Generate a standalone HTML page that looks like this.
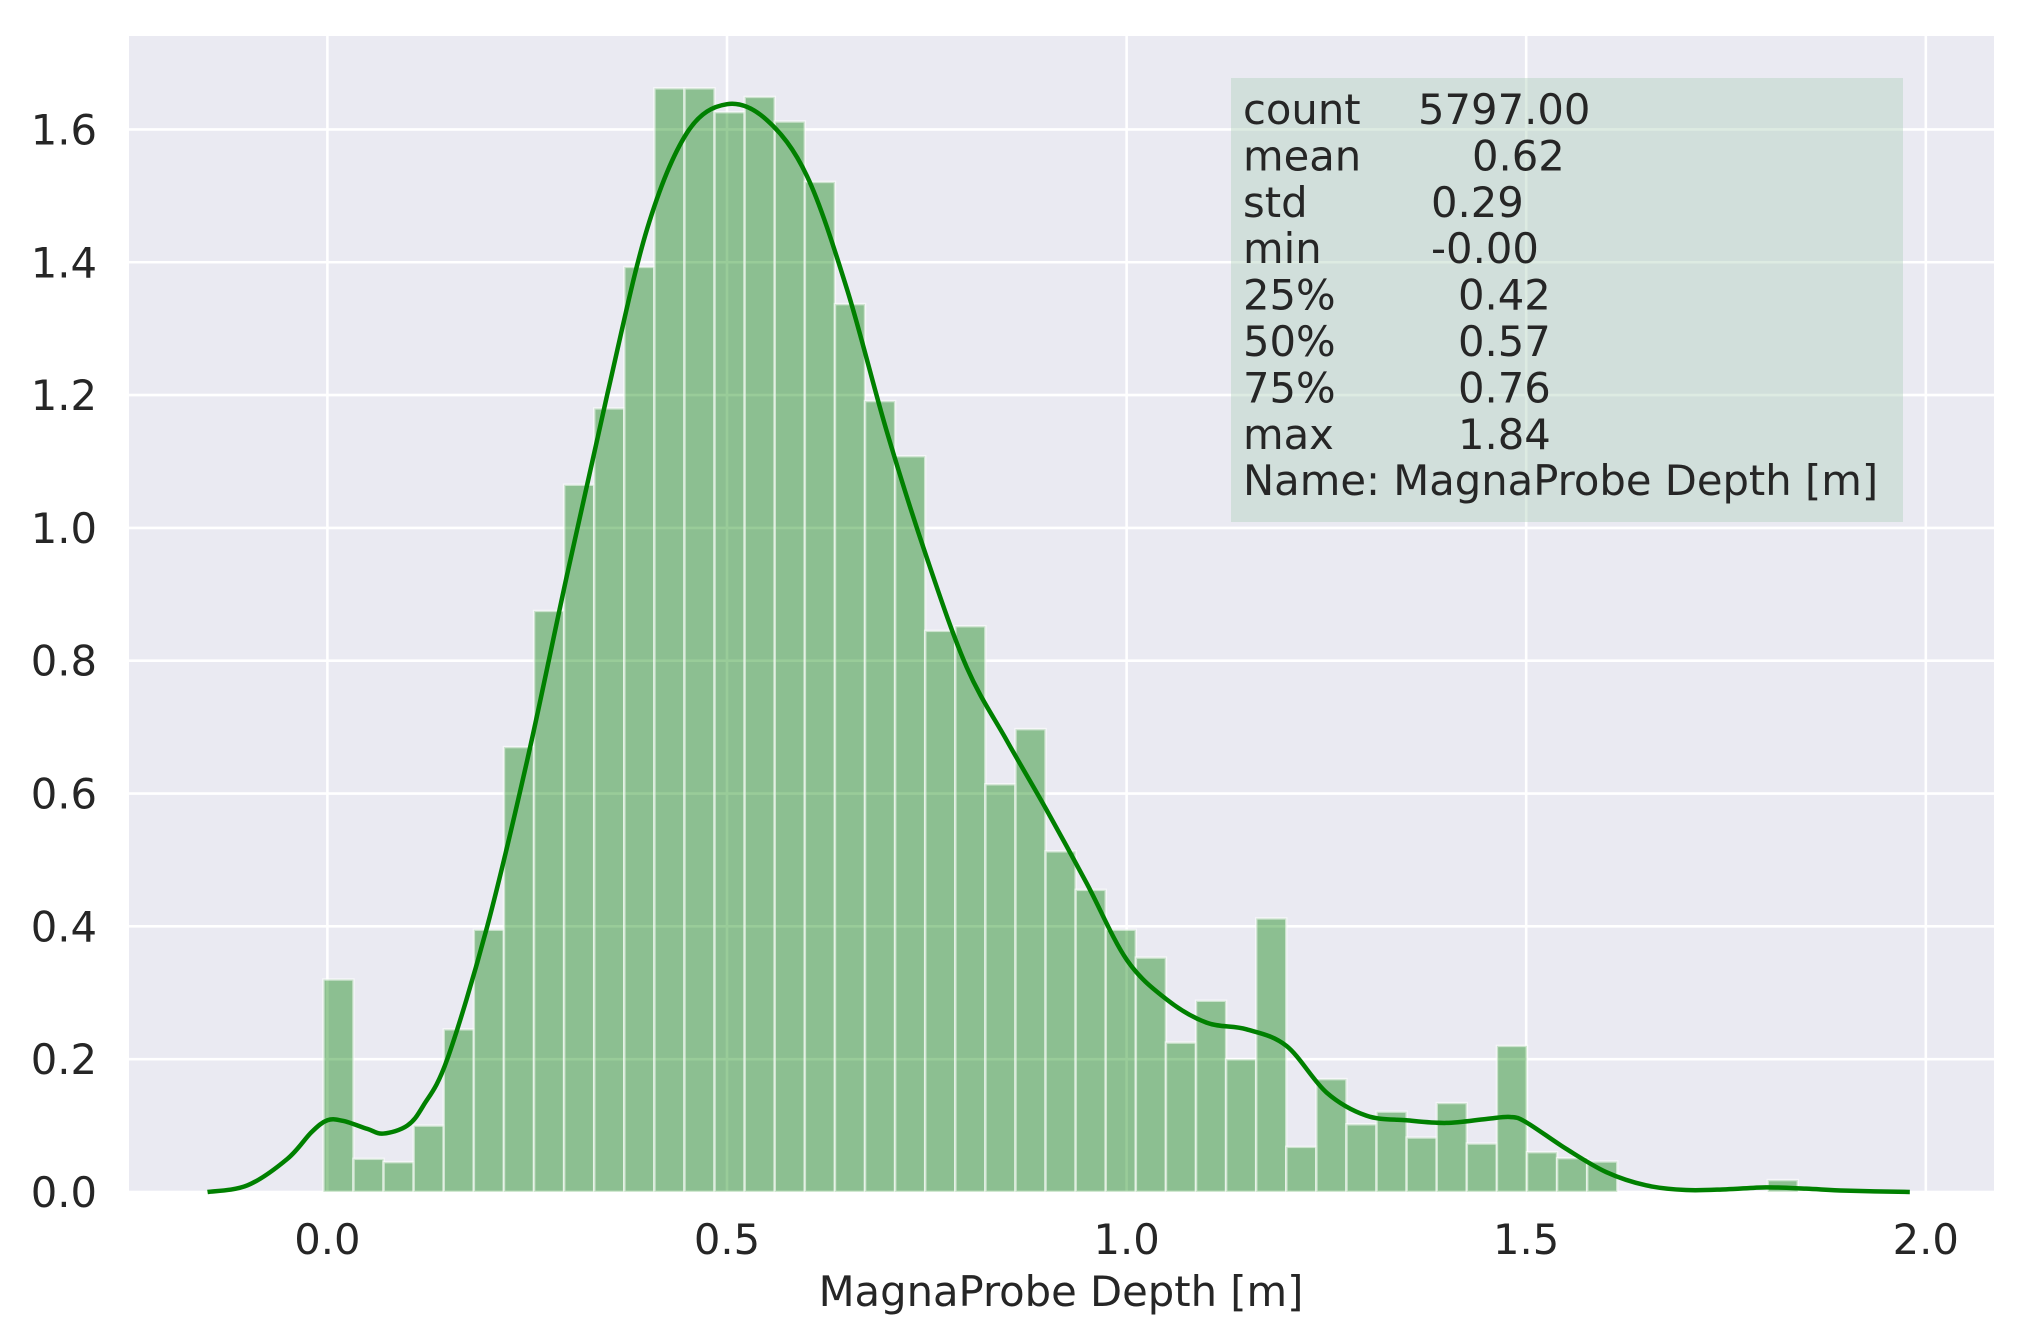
<!DOCTYPE html>
<html>
<head>
<meta charset="utf-8">
<style>
html,body{margin:0;padding:0;background:#fff;}
svg{display:block;}
text{font-family:"DejaVu Sans","Liberation Sans",sans-serif;fill:#262626;}
</style>
</head>
<body>
<svg id="chart" width="2019" height="1344" viewBox="0 0 2019 1344" xmlns="http://www.w3.org/2000/svg">
  <rect x="129" y="36" width="1865" height="1156" fill="#EAEAF2"/>
  <g id="grid"></g>
  <g id="bars"></g>
  <path id="kde" fill="none" stroke="#008000" stroke-width="4.5" stroke-linejoin="round"/>
  <g id="xticks"></g>
  <g id="yticks"></g>
  <text x="1061" y="1306" font-size="41.7" text-anchor="middle">MagnaProbe Depth [m]</text>
  <g>
    <rect x="1231" y="78" width="672" height="444" fill="rgb(180,210,190)" fill-opacity="0.45"/>
    <g id="stats" font-size="41.7"></g>
  </g>
</svg>
<script>
const binStart = -0.005;
const binWidth = 0.03765;
const binHeights = [0.32,0.05,0.045,0.10,0.245,0.395,0.67,0.875,1.065,1.18,
  1.393,1.662,1.662,1.626,1.649,1.612,1.521,1.337,1.191,1.108,
  0.845,0.852,0.614,0.697,0.513,0.455,0.395,0.353,0.225,0.288,
  0.200,0.412,0.068,0.170,0.102,0.121,0.082,0.134,0.073,0.220,
  0.060,0.051,0.046,0,0,0,0,0,0.018];
const kdeX = [-0.15,-0.1,-0.05,-0.02,0.0,0.02,0.05,0.07,0.1,0.12,0.15,0.2,0.25,0.3,0.35,0.4,0.45,0.5,0.55,0.6,0.65,0.7,0.75,0.8,0.85,0.9,0.95,1.0,1.05,1.1,1.15,1.2,1.25,1.3,1.35,1.4,1.45,1.48,1.5,1.55,1.6,1.65,1.7,1.75,1.8,1.85,1.9,1.98];
const kdeY = [0,0.01,0.05,0.09,0.108,0.107,0.095,0.088,0.1,0.13,0.2,0.4,0.65,0.93,1.2,1.45,1.595,1.638,1.614,1.53,1.36,1.145,0.955,0.79,0.68,0.575,0.465,0.35,0.29,0.255,0.245,0.22,0.15,0.115,0.108,0.104,0.11,0.113,0.105,0.065,0.03,0.01,0.003,0.004,0.007,0.005,0.002,0.0];
const xTicks = [0.0,0.5,1.0,1.5,2.0];
const xTickLabels = ["0.0","0.5","1.0","1.5","2.0"];
const yTicks = [0.0,0.2,0.4,0.6,0.8,1.0,1.2,1.4,1.6];
const yTickLabels = ["0.0","0.2","0.4","0.6","0.8","1.0","1.2","1.4","1.6"];
const statKeys = ["count","mean","std","min","25%","50%","75%","max"];
const statVals = ["5797.00","0.62","0.29","-0.00","0.42","0.57","0.76","1.84"];

const NS = "http://www.w3.org/2000/svg";
const X0 = 327.4, XS = 799.2, Y0 = 1192, YS = 664.1;
function sx(v){return X0 + v*XS;}
function sy(v){return Y0 - v*YS;}

const grid = document.getElementById('grid');
xTicks.forEach(function(t){
  const l = document.createElementNS(NS,'line');
  
  
  l.setAttribute('x1',sx(t)); l.setAttribute('x2',sx(t));
  l.setAttribute('y1',36); l.setAttribute('y2',1192);
  l.setAttribute('stroke','#fff'); l.setAttribute('stroke-width','2.6');
  grid.appendChild(l);
});
yTicks.forEach(function(t){
  const l = document.createElementNS(NS,'line');
  
  
  l.setAttribute('x1',129); l.setAttribute('x2',1994);
  l.setAttribute('y1',sy(t)); l.setAttribute('y2',sy(t));
  l.setAttribute('stroke','#fff'); l.setAttribute('stroke-width','2.6');
  grid.appendChild(l);
});

const bars = document.getElementById('bars');
binHeights.forEach(function(h,i){
  if(h<=0) return;
  const x1 = sx(binStart + i*binWidth), x2 = sx(binStart + (i+1)*binWidth);
  const r = document.createElementNS(NS,'rect');
  
  
  r.setAttribute('x',x1); r.setAttribute('width',x2-x1);
  r.setAttribute('y',sy(h)); r.setAttribute('height',Y0-sy(h));
  r.setAttribute('fill','rgb(0,128,0)'); r.setAttribute('fill-opacity','0.4');
  r.setAttribute('stroke','rgba(255,255,255,0.55)'); r.setAttribute('stroke-width','2.5');
  bars.appendChild(r);
});

const pts = kdeX.map(function(x,i){return [sx(x),sy(kdeY[i])];});
let d = 'M'+pts[0][0]+','+pts[0][1];
for(let i=0;i<pts.length-1;i++){
  const p0=pts[Math.max(0,i-1)],p1=pts[i],p2=pts[i+1],p3=pts[Math.min(pts.length-1,i+2)];
  const c1=[p1[0]+(p2[0]-p0[0])/6,p1[1]+(p2[1]-p0[1])/6];
  const c2=[p2[0]-(p3[0]-p1[0])/6,p2[1]-(p3[1]-p1[1])/6];
  d+=' C'+c1[0]+','+c1[1]+' '+c2[0]+','+c2[1]+' '+p2[0]+','+p2[1];
}
document.getElementById('kde').setAttribute('d',d);

const xt = document.getElementById('xticks');
xTicks.forEach(function(t,i){
  const e = document.createElementNS(NS,'text');
  
  
  e.setAttribute('x',sx(t)); e.setAttribute('y',1254);
  e.setAttribute('font-size','41.7'); e.setAttribute('text-anchor','middle');
  e.textContent = xTickLabels[i];
  xt.appendChild(e);
});
const yt = document.getElementById('yticks');
yTicks.forEach(function(t,i){
  const e = document.createElementNS(NS,'text');
  
  
  e.setAttribute('x',97); e.setAttribute('y',sy(t)+15);
  e.setAttribute('font-size','41.7'); e.setAttribute('text-anchor','end');
  e.textContent = yTickLabels[i];
  yt.appendChild(e);
});

const valX = [1418,1472,1431,1431,1458,1458,1458,1458];
const st = document.getElementById('stats');
statKeys.forEach(function(k,i){
  const y = 124 + i*46.4;
  const a = document.createElementNS(NS,'text');
  
  
  a.setAttribute('x',1243); a.setAttribute('y',y);
  a.textContent = k;
  st.appendChild(a);
  const b = document.createElementNS(NS,'text');
  
  
  b.setAttribute('x',valX[i]); b.setAttribute('y',y);
  b.textContent = statVals[i];
  st.appendChild(b);
});
const nm = document.createElementNS(NS,'text');


nm.setAttribute('x',1243); nm.setAttribute('y',124+8*46.4);
nm.textContent = 'Name: MagnaProbe Depth [m]';
st.appendChild(nm);
</script>
</body>
</html>
